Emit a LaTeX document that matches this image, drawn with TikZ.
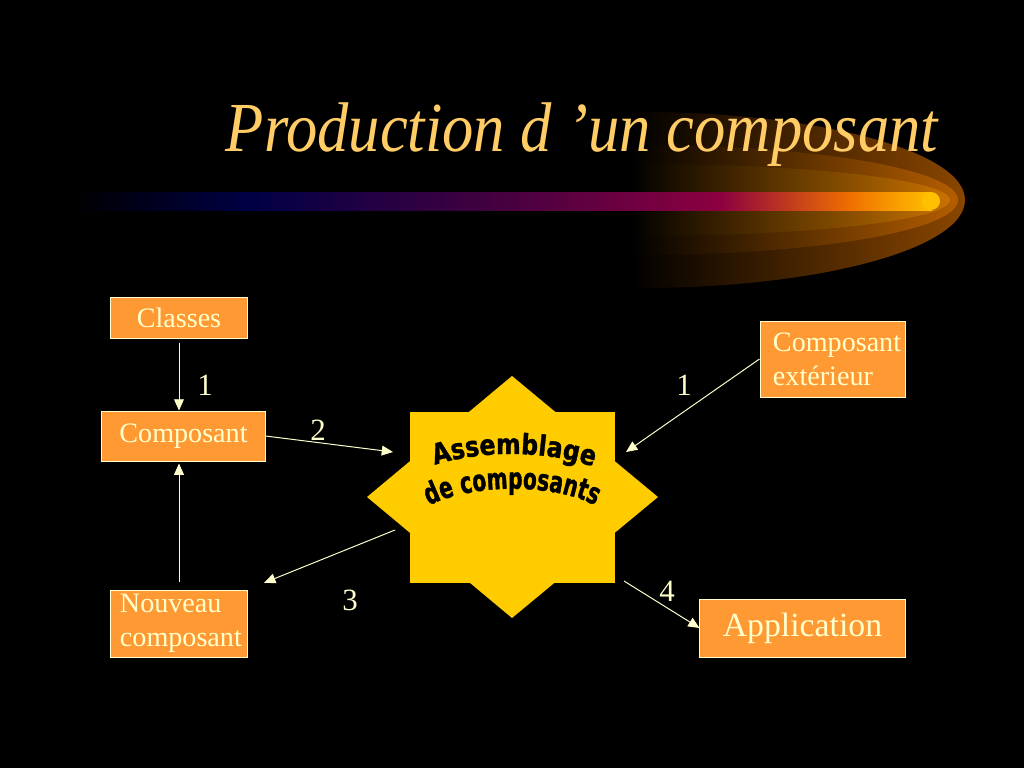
\documentclass[tikz,border=0pt]{standalone}
\usepackage{fontspec}
\setmainfont{Liberation Serif}
\newfontfamily\titlefont[FakeStretch=0.89]{Liberation Serif}
\newfontfamily\wordartA[FakeStretch=0.84, FakeBold=1.2]{DejaVu Sans}
\newfontfamily\wordartB[FakeStretch=0.68, FakeBold=1.2]{DejaVu Sans}
\usepackage{xcolor}
\usetikzlibrary{arrows.meta, positioning, calc, decorations.text}

\definecolor{boxfill}{HTML}{FF9933}
\definecolor{cream}{HTML}{FFFFCC}
\definecolor{titlecol}{HTML}{FFCC66}
\definecolor{starfill}{HTML}{FFCC00}
\definecolor{glowA}{HTML}{8A4600}
\definecolor{glowB}{HTML}{B86000}
\definecolor{glowC}{HTML}{D27800}
\definecolor{barA}{HTML}{000045}
\definecolor{barB}{HTML}{400040}
\definecolor{barC}{HTML}{8C0040}
\definecolor{barD}{HTML}{F07000}
\definecolor{barE}{HTML}{FFC000}

\begin{document}
\begin{tikzpicture}[x=0.025cm, y=-0.025cm,
    box/.style={draw=cream, line width=0.7pt, fill=boxfill, text=cream, font=\fontsize{20}{24}\selectfont, inner sep=0pt},
    arr/.style={-{Triangle[length=8pt, width=7pt]}, draw=cream, line width=0.7pt},
    num/.style={text=cream, font=\fontsize{22}{26}\selectfont},
    wordart/.style={decorate, decoration={text along path, text align=center, text={#1}}}
]
    % background and title band
    \fill[black] (0,0) rectangle (1024,768);
    \foreach \rx/\ry/\col in {325/88/glowA, 318/55/glowB, 310/36/glowC} {
        \begin{scope}
            \clip (630,100) rectangle (1000,300);
            \clip (640,200) ellipse [x radius=\rx, y radius=\ry];
            \shade[left color=black, right color=\col] (630,100) rectangle (965,300);
        \end{scope}
    }
    \foreach \xa/\xb/\ca/\cb in {70/251/black/barA, 250/481/barA/barB, 480/721/barB/barC, 720/851/barC/barD, 850/932/barD/barE}
        \shade[left color=\ca, right color=\cb] (\xa,192) rectangle (\xb,210);
    \fill[barE] (931,201) circle [radius=9];
    \node[text=titlecol, font=\titlefont\itshape\fontsize{50}{60}\selectfont, anchor=base] (title) at (582,152) {Production d ’un composant};

    % assemblage star
    \fill[starfill] (410,412) rectangle (615,583);
    \fill[starfill] (512,376) -- (658,497) -- (512,618) -- (367,497) -- cycle;
    \coordinate (asm) at (512,497);
    \path[wordart={|\wordartA\bfseries\fontsize{20}{24}\selectfont|Assemblage}] (426,468) .. controls (476,449) and (550,449) .. (602,470);
    \path[wordart={|\wordartB\bfseries\fontsize{21}{25}\selectfont|de composants}] (418,512) .. controls (460,482) and (562,480) .. (606,512);
    \coordinate (sW) at (393,452);
    \coordinate (sE) at (626,452);
    \coordinate (sSW) at (395,530);
    \coordinate (sSE) at (624,581);

    % boxes
    \node[box, minimum width=3.4cm, minimum height=1.025cm] (classes) at (179,317.5) {Classes};
    \node[box, minimum width=4.075cm, minimum height=1.25cm] (composant) at (183.5,436) {Composant};
    \node[box, minimum width=3.4cm, minimum height=1.675cm, inner xsep=0.225cm, text width=2.95cm, align=left] (nouveau) at (179,623.5) {Nouveau\\composant};
    \node[box, minimum width=3.625cm, minimum height=1.9cm, inner xsep=0.325cm, text width=2.975cm, align=left] (exterieur) at (832.5,359) {Composant\\extérieur};
    \node[box, minimum width=5.125cm, minimum height=1.45cm, font=\fontsize{24}{28}\selectfont] (application) at (802.5,628) {Application};

    % connectors
    \draw[arr, shorten <=0.1cm] (classes.south) -- (classes.south |- composant.north);
    \draw[arr, shorten <=0.2cm, shorten >=0.05cm] (nouveau.north) -- (nouveau.north |- composant.south);
    \draw[arr] (composant.east) -- (sW);
    \draw[arr, shorten >=0.45cm] (sSW) -- (nouveau.north east);
    \draw[arr] (exterieur.west) -- (sE);
    \draw[arr] (sSE) -- (application.west);

    \node[num] (n1) at (205,385) {1};
    \node[num] (n2) at (318,430) {2};
    \node[num] (n3) at (350,600) {3};
    \node[num] (n1b) at (684,385) {1};
    \node[num] (n4) at (667,591) {4};
\end{tikzpicture}
\end{document}
